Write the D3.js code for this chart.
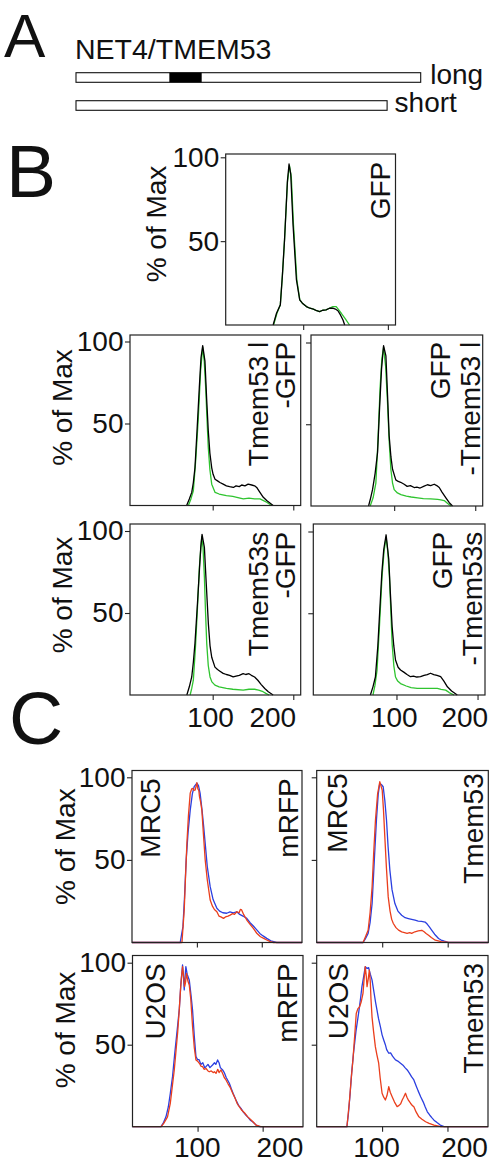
<!DOCTYPE html>
<html><head><meta charset="utf-8">
<script src="https://cdn.jsdelivr.net/npm/d3@7"></script>
<style>html,body{margin:0;padding:0;background:#fff}svg{display:block}</style>
</head><body>
<script>
// ---------------- DATA ----------------
// Panel A: isoforms of NET4/TMEM53 (length in aa), dark segment
const isoforms = ["long", "short"];
const isoformLength = [277, 250];
const domainSegment = [75, 101];
const geneName = "NET4/TMEM53";

// Axis ticks
const yTicks = [50, 100];
const xTicks = [100, 200];
const yAxisTitle = "% of Max";

// Panel B histograms: [fluorescence, % of max]
const gfpBlack = [[64.5,0],[68.5,7],[73,12],[75.5,30],[78,51],[81.4,86],[83.3,96],[85.3,90],[88,60],[92,27],[95.9,15],[99,13],[103.8,11],[108,10],[112,9.5],[116,8.5],[119.4,8],[123,8.8],[127,9],[131,10],[135,10],[138,9.5],[141,8.5],[144,6],[147,3],[149,0]];
const gfpGreen = [[65,0],[69,7],[73,12],[75.5,30],[78,51],[81.4,85],[83.8,95],[86,88],[88.5,60],[92.5,27],[96,15],[99,13],[103.8,11],[108,10],[112,9.5],[116,8.5],[119.4,8],[123,8.8],[127,9],[131,10],[135,11],[139,11],[142,9],[145,7],[150,3.5],[154.7,0]];

const t53lBlack = [[67.7,0],[71,4],[74,8],[76,14],[78,23],[80.5,45],[83.4,72],[85.5,90],[87.6,97.5],[90.4,88],[92.5,65],[94.5,45.7],[96.5,32],[98.8,23],[100.5,19],[102.9,16],[106,15],[109,14],[113,13],[117,12],[121,11.5],[125.6,11],[129,12],[133,11.5],[136,12.5],[140,12],[144,13],[148.4,12.5],[152,12],[154.6,11],[158,8.5],[162.8,5],[167,3],[171,1.5],[175,0]];
const t53lGreen = [[69.8,0],[73,4],[76,9],[79,28],[82,52],[85,82],[87.6,96.5],[89.5,88],[91.3,72],[93,52],[94.5,35.6],[96.5,22],[98.8,13],[103,8],[108,7],[117,6],[125,5.5],[130,5],[138,4],[145,4.5],[152,4],[158.7,4],[163,3],[167,2],[173,0]];

const gfpT53lBlack = [[68.4,0],[71,5],[73.3,10],[76.5,20],[79.5,32.7],[82,60],[84.4,83.7],[86.9,98],[89.8,91.8],[91.8,68],[93.8,43],[96,30],[98,22.5],[102,16],[105,15],[108,14.5],[112.3,13.3],[116,12],[120,12.5],[124.7,11.3],[128,11.5],[132,11],[137,12.2],[141,13],[145,12.5],[149.4,13.3],[152.5,12.5],[155.6,11.3],[159,8.5],[163.8,5],[168,2],[172,0]];
const gfpT53lGreen = [[70.4,0],[74,5],[77.4,14],[80,40],[82.7,73],[84.8,90],[86.9,97],[89.5,85],[91.8,63],[93.8,40],[95.9,22.5],[98,14],[100,10],[104,8],[108.3,7],[115,6],[121,5.5],[128.9,5],[136,4.5],[145,4.3],[153.6,4],[157.5,3.8],[161.7,3.3],[166,1.5],[170,0]];

const t53sBlack = [[67.9,0],[71,5],[74,11],[76,20],[78,31.5],[81,55],[83.5,76],[85.2,90],[86.8,98],[89.7,90],[92,68],[94.6,43.7],[96.7,30],[98.8,23],[102.8,17],[106,15.5],[109,14.5],[113,13.2],[117,12.5],[121,12],[125.4,11],[129,11.5],[133,12],[137.8,13],[141,12.5],[145,13],[148,12],[152,11],[156,9],[160,6.5],[164.6,4],[169,2],[175,0]];
const t53sGreen = [[72,0],[74,4],[76,9],[78.5,28],[81,52],[83.5,78],[86.4,96.5],[88,90],[89.7,72],[91,52],[92.6,31.5],[94.5,18],[96.7,11],[99,8],[102.8,6],[108,5],[117,4],[125,3.5],[137.8,3],[145,3.5],[152,3.5],[157,3],[162.5,2],[166,1],[170,0]];

const gfpT53sBlack = [[67.8,0],[71,5],[74,11],[77,30],[79.4,52],[82,75],[84.3,89],[87.2,98],[90.5,83],[92.5,62],[94.6,42],[96.7,30],[98.8,21.4],[102,17],[105,15.3],[109,14],[113,12.5],[117.3,11.2],[121,11.5],[125,11],[129.7,11.2],[134,12],[138,12.5],[142,13.3],[146,12.5],[150,12],[154.5,11.2],[158.5,8.5],[162.8,5],[168,2.5],[175,0]];
const gfpT53sGreen = [[71,0],[73.5,6],[76,15],[79,42],[82.2,72.5],[84.7,88],[87.2,96.5],[89.2,88],[91.3,72.5],[93,52],[94.6,31.6],[96.7,18],[98.8,11],[101.5,8.5],[105,7],[112,5.5],[118,4.5],[125.5,4],[135,4],[143,4],[150.4,4],[155,3.5],[160.7,3],[165,1.5],[171,0]];

// Panel C histograms
const mrc5MrfpBlue = [[0,0],[74.3,0],[78.5,9.6],[81,28],[83.5,50],[86.5,67],[89.7,80],[93,90],[95.8,94.3],[100,96.4],[102.5,95],[105,90.3],[108,80],[110.5,70],[112.8,60],[116,46],[120.5,33.8],[125,26],[130.8,20.7],[135,19],[140,18],[146,17.7],[151,18.5],[156,18],[161.5,18.6],[166,17],[171,16],[176.9,14.6],[182,12],[187,10],[192.3,7.6],[197,5.5],[202,4],[207.7,2.5],[214,1],[223,0],[262,0]];
const mrc5MrfpRed = [[0,0],[77,0],[80.5,19.7],[82.5,40],[84.6,60],[87,77],[89.7,90.3],[92,93],[93.8,93.3],[95.5,92],[97.4,92.3],[99,95],[100,96.7],[101.5,93],[103,92],[104,88.3],[105.8,85],[107.7,80],[110,66],[112.8,50],[116,38],[120.5,25.7],[124,22],[127,20],[130.8,18.6],[134,16],[137,15.5],[141,14.6],[144,15.5],[148,16],[151.2,16.6],[155,17.5],[158,17],[161.5,18.6],[165,18],[167,20],[169,19.7],[172,17],[176.9,13.6],[182,11],[187,8.5],[192.3,5.6],[198,3.5],[203,2.5],[207.7,1.5],[213,0.5],[218,0],[262,0]];

const mrc5T53Blue = [[0,0],[70.8,0],[74,2],[78.5,5.5],[81.5,12],[84.6,23.6],[88,50],[91.2,74],[94,90],[96.3,96.4],[99,95.5],[101.5,94.3],[104,86],[106.6,74],[109,58],[111.7,43.8],[115,32],[119.4,23.6],[124,19],[129.7,16.5],[135,15],[140,14.5],[145,14],[150.2,13.5],[155,13],[160,12.8],[165.5,12.4],[169,11],[172,9.5],[175.8,7.4],[180,5],[186,2.4],[190,1.5],[195,0.8],[201.5,0],[262,0]];
const mrc5T53Red = [[0,0],[70.8,0],[74,3],[78.5,7.4],[81.5,18],[84.6,33.7],[87,54],[89.7,74],[93,90],[96.3,97.3],[98,95],[100,92.3],[102,80],[104,64],[106.5,45],[109.2,27.6],[112,19],[114.5,14],[117,11.5],[121,9],[125,7.5],[129.7,6.4],[134,6],[138,5.5],[142,6],[145,5.5],[150,6.5],[155,7],[160.5,7.4],[164,6.5],[167,5.5],[170.8,4.4],[175,3],[181,1.4],[190,0.5],[203,0],[262,0]];

const u2osMrfpBlue = [[0,0],[43.7,0],[47,2],[51.4,6],[55,12],[58,20],[61.5,30.5],[65,45],[69.2,61],[72,72],[74.5,88],[76.9,98.6],[78.5,90],[79.5,83.4],[80.5,90],[82,97.6],[84,93],[87.2,89.5],[90,80],[92.3,71],[95,55],[97.5,42.7],[100,41],[102.6,40.7],[105,38],[108,39],[111,36],[112.9,36.6],[116,38],[119,36],[123,37.6],[126,39],[128,38],[130.8,40.7],[133,39],[135,36],[138.5,34.6],[141,33],[144,30],[148.8,26.5],[152,23],[155,20],[159,16.3],[163,13],[167,11],[170,9],[174.5,7],[178,5.5],[181,4],[184.6,3],[190,1],[195,0],[262,0]];
const u2osMrfpRed = [[0,0],[44,0],[48,2],[53.8,6],[58,14],[61,24],[64.2,34.6],[67,47],[69.5,58],[71.8,71],[74,85],[75.5,92],[77,97.6],[78.5,92],[80,85.4],[81.5,88],[83,93.5],[85,89],[87.2,86.4],[89.5,78],[92.3,61],[95,48],[97.5,40.7],[100,40],[103,38.5],[105,37],[107.7,36.6],[110,35],[113,35.5],[116,34],[118,33.5],[121,34],[124,33],[126,33.5],[128.3,32.5],[131,35],[133,33],[136,34.6],[139,32],[141,30],[143.7,28.5],[147,26],[150,24],[154,20.4],[158,17],[161,14],[164,12.2],[168,10],[172,8.5],[177,6],[181,4.5],[185,3],[189.8,1],[197,0],[262,0]];

const u2osT53Blue = [[0,0],[46.2,0],[48.5,8],[51.2,20.4],[53.5,33],[56.3,44.8],[60,58],[64,69],[67,78],[69.2,85.4],[72,92],[74.3,97.6],[77,96.5],[79.4,97],[82,93],[84.6,89.5],[88,81],[90,76],[92.3,71],[94.5,66],[97.4,61],[100,56],[102.5,52.9],[105,50],[107,47],[110.2,44.8],[113,45],[116,43],[118,42],[120.5,40.7],[124,40],[128.2,38.7],[132,37.5],[135,36],[138.5,34.6],[142,32.5],[145,30.5],[148.6,28.5],[152,25],[155,22],[159,18.3],[163,15],[166,12],[169.2,9.1],[173,7],[176,5.5],[179.4,4],[184,2.5],[189,1],[194.8,0],[262,0]];
const u2osT53Red = [[0,0],[46.2,0],[48,7],[50.2,16.3],[52.5,28],[55.4,40.7],[58,55],[60.5,69],[63,72],[65.5,73],[68,76],[70.8,81.3],[72.5,90],[74.3,97.6],[75.8,92],[77,85.4],[78.8,90],[80.5,95.5],[82,88],[83,78],[84.6,67],[87,58],[89.7,48.8],[92,44],[94.8,38.7],[97,30],[100,20.4],[102.5,18],[105,16.3],[107.5,19],[110.2,24.4],[112.5,21],[115.4,18.3],[119,15],[123,12.2],[126,13],[128.5,14],[130.8,16.3],[133,18],[135.8,20.4],[138,18],[140.5,16],[143.5,14.3],[146,13],[148.6,12.2],[152,9],[156.3,6],[161,4.5],[166.6,3],[172,2],[179.4,1],[190,0],[262,0]];

// ---------------- LAYOUT / STYLE ----------------
const FONT = "'Liberation Sans', Arial, Helvetica, sans-serif";
const COL = {k:"#000", g:"#2fc42f", b:"#2b3fe0", r:"#ea3e1c"};
const xDomB = [-2.6, 209.2], xDomBtop = [8.5, 209], xDomC = [0, 262];

const svg = d3.select("body").append("svg").attr("width", 496).attr("height", 1162)
  .style("font-family", FONT);

// Panel letters
[["A", 4, 56.5, 62], ["B", 6, 197.3, 75], ["C", 9, 744, 75]].forEach(([t, x, y, s]) =>
  svg.append("text").attr("x", x).attr("y", y).attr("font-size", s).attr("fill", "#111").text(t));

// ---- Panel A ----
const ax = d3.scaleLinear().domain([0, isoformLength[0]]).range([76, 420.7]);
const rowY = d3.scalePoint().domain(isoforms).range([72.7, 100.7]);
svg.append("text").attr("x", 75).attr("y", 59.3).attr("font-size", 28.5).attr("fill", "#111").text(geneName);
isoforms.forEach((iso, i) => {
  svg.append("rect").attr("x", ax(0)).attr("y", rowY(iso)).attr("width", ax(isoformLength[i]) - ax(0))
    .attr("height", 9.6).attr("fill", "#fff").attr("stroke", "#111").attr("stroke-width", 1.1);
  svg.append("text").attr("x", ax(isoformLength[i]) + (i === 0 ? 9.5 : 7.5)).attr("y", rowY(iso) + 10.8)
    .attr("font-size", 28).attr("fill", "#111").text(iso);
});
svg.append("rect").attr("x", ax(domainSegment[0])).attr("y", rowY(isoforms[0]))
  .attr("width", ax(domainSegment[1]) - ax(domainSegment[0])).attr("height", 9.6).attr("fill", "#000");

// ---- Histogram panels ----
function panel(p) {
  const yTop = 100 * (p.y1 - p.y0) / (p.y1 - p.t100);
  const x = d3.scaleLinear().domain(p.xd).range([p.x0, p.x1]);
  const y = d3.scaleLinear().domain([0, yTop]).range([p.y1, p.y0]);
  const g = svg.append("g");
  const line = d3.line().x(d => x(d[0])).y(d => y(d[1]));
  p.series.forEach(([data, c]) => {
    g.append("path").datum(data).attr("d", line).attr("fill", "none")
      .attr("stroke", COL[c]).attr("stroke-width", 1.3).attr("stroke-linejoin", "round");
  });
  g.append("rect").attr("x", p.x0).attr("y", p.y0).attr("width", p.x1 - p.x0).attr("height", p.y1 - p.y0)
    .attr("fill", "none").attr("stroke", "#222").attr("stroke-width", 1.2);
  const yAx = d3.axisLeft(y).tickValues(yTicks).tickSize(5).tickPadding(1.5)
    .tickFormat(p.yLab ? d3.format("d") : () => "");
  const ya = g.append("g").attr("transform", `translate(${p.x0},0)`).call(yAx);
  const xAx = d3.axisBottom(x).tickValues(xTicks).tickSize(5).tickPadding(p.xpad || 7.5)
    .tickFormat(p.xLab ? d3.format("d") : () => "");
  const xa = g.append("g").attr("transform", `translate(0,${p.y1})`).call(xAx);
  [ya, xa].forEach(a => {
    a.select(".domain").remove();
    a.selectAll("line").attr("stroke", "#222").attr("stroke-width", 1.1);
    a.selectAll("text").attr("font-size", 28).attr("font-family", FONT).attr("fill", "#111");
  });
  if (p.xdx) xa.selectAll(".tick text").attr("dx", (d, i) => p.xdx[i]);
  if (p.title) {
    g.append("text").attr("transform", `translate(${p.title[0]},${p.title[1]}) rotate(-90)`)
      .attr("text-anchor", "middle").attr("font-size", 28).attr("fill", "#111").text(yAxisTitle);
  }
  (p.labels || []).forEach(([t, bx, ey]) => {
    g.append("text").attr("transform", `translate(${bx},${ey}) rotate(-90)`)
      .attr("text-anchor", "end").attr("font-size", 28).attr("fill", "#111").text(t);
  });
}

const panels = [
  {x0:225.7, x1:395.5, y0:154, y1:325, t100:157.3, xd:xDomBtop, yLab:true, xLab:false,
   series:[[gfpGreen,"g"],[gfpBlack,"k"]], title:[166,224], labels:[["GFP",390,161.7]]},
  {x0:130, x1:300.7, y0:335, y1:505.5, t100:341.5, xd:xDomB, yLab:true, xLab:false,
   series:[[t53lGreen,"g"],[t53lBlack,"k"]], title:[71.5,407.5],
   labels:[["Tmem53 l",268.3,341.7],["-GFP",295,341.7]]},
  {x0:311, x1:482.7, y0:335, y1:506, t100:342.5, xd:xDomB, yLab:false, xLab:false,
   series:[[gfpT53lGreen,"g"],[gfpT53lBlack,"k"]],
   labels:[["GFP",450,341.7],["-Tmem53 l",480,341.7]]},
  {x0:130, x1:300.7, y0:524, y1:695, t100:531, xd:xDomB, yLab:true, xLab:true, xdx:[-2.7,-21],
   series:[[t53sGreen,"g"],[t53sBlack,"k"]], title:[71.5,595],
   labels:[["Tmem53s",268.3,531.7],["-GFP",295,531.7]]},
  {x0:313.3, x1:485, y0:524, y1:695, t100:531.5, xd:xDomB, yLab:false, xLab:true, xdx:[-2.7,-13.3],
   series:[[gfpT53sGreen,"g"],[gfpT53sBlack,"k"]],
   labels:[["GFP",451.7,531.7],["-Tmem53s",481.7,531.7]]},
  {x0:132, x1:302, y0:770.5, y1:942.5, t100:777.3, xd:xDomC, yLab:true, xLab:false,
   series:[[mrc5MrfpBlue,"b"],[mrc5MrfpRed,"r"]], title:[75,846.7],
   labels:[["MRC5",160,778.3],["mRFP",298.3,778.3]]},
  {x0:316.7, x1:488.3, y0:770.5, y1:942.5, t100:777.3, xd:xDomC, yLab:false, xLab:false,
   series:[[mrc5T53Blue,"b"],[mrc5T53Red,"r"]],
   labels:[["MRC5",346.7,773.3],["Tmem53",483.3,773.3]]},
  {x0:132.5, x1:303, y0:955.5, y1:1126.7, t100:962.7, xd:xDomC, yLab:true, xLab:true, xdx:[-0.8,16.7], xpad:5.5,
   series:[[u2osMrfpBlue,"b"],[u2osMrfpRed,"r"]], title:[75,1030],
   labels:[["U2OS",165,963.3],["mRFP",296.7,963.3]]},
  {x0:316.7, x1:488, y0:955.5, y1:1126.7, t100:962.7, xd:xDomC, yLab:false, xLab:true, xdx:[-6,16.6], xpad:5.5,
   series:[[u2osT53Blue,"b"],[u2osT53Red,"r"]],
   labels:[["U2OS",348.3,963],["Tmem53",483.3,963]]}
];
panels.forEach(panel);
</script>
</body></html>
